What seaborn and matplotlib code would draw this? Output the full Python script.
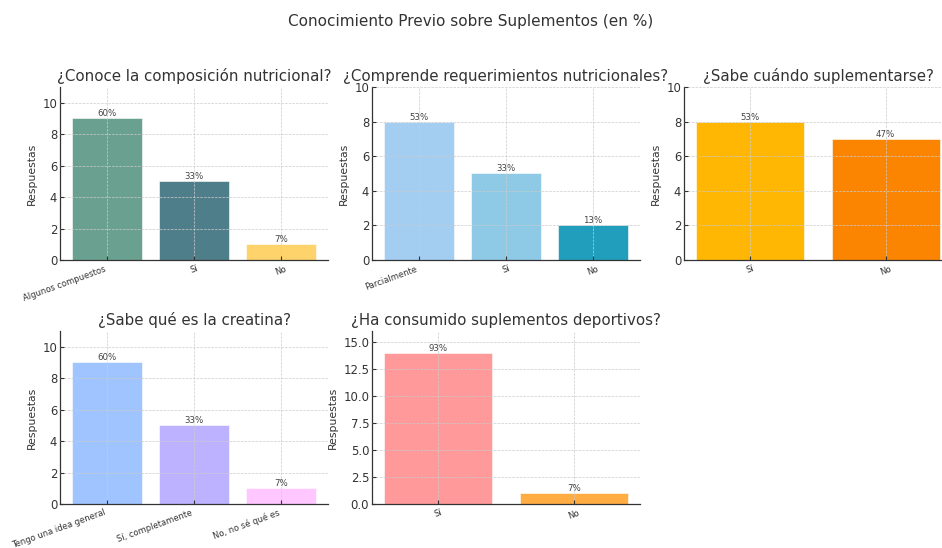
import matplotlib
matplotlib.use("Agg")
import matplotlib.pyplot as plt
import seaborn as sns
import pandas as pd

# Survey answers (number of respondents per option, 15 in total)
q1_title = "¿Conoce la composición nutricional?"
q1_labels = ["Algunos compuestos", "Sí", "No"]
q1_counts = [9, 5, 1]
q1_colors = ["#6aa08f", "#4f7e8b", "#ffd36b"]

q2_title = "¿Comprende requerimientos nutricionales?"
q2_labels = ["Parcialmente", "Sí", "No"]
q2_counts = [8, 5, 2]
q2_colors = ["#a3cdf1", "#8ecae6", "#219ebc"]

q3_title = "¿Sabe cuándo suplementarse?"
q3_labels = ["Sí", "No"]
q3_counts = [8, 7]
q3_colors = ["#ffb703", "#fb8500"]

q4_title = "¿Sabe qué es la creatina?"
q4_labels = ["Tengo una idea general", "Sí, completamente", "No, no sé qué es"]
q4_counts = [9, 5, 1]
q4_colors = ["#a0c4ff", "#bdb2ff", "#ffc6ff"]

q5_title = "¿Ha consumido suplementos deportivos?"
q5_labels = ["Sí", "No"]
q5_counts = [14, 1]
q5_colors = ["#ff999a", "#ffad42"]

TEXT = "#333333"

sns.set_theme(style="ticks")
plt.rcParams.update({
    "font.family": ["DejaVu Sans"],
    "axes.edgecolor": "#333333",
    "axes.linewidth": 0.9,
    "xtick.direction": "in",
    "ytick.direction": "in",
    "xtick.color": TEXT,
    "ytick.color": TEXT,
    "text.color": TEXT,
    "axes.labelcolor": TEXT,
})

fig = plt.figure(figsize=(9.42, 5.48), dpi=100)
W, H = 942.0, 548.0


def make_axes(left_px, top_px, width_px=268, height_px=173):
    return fig.add_axes([left_px / W, 1 - (top_px + height_px) / H,
                         width_px / W, height_px / H])


panels = [
    (make_axes(60, 87), q1_title, q1_labels, q1_counts, q1_colors),
    (make_axes(372, 87), q2_title, q2_labels, q2_counts, q2_colors),
    (make_axes(684, 87), q3_title, q3_labels, q3_counts, q3_colors),
    (make_axes(60, 331), q4_title, q4_labels, q4_counts, q4_colors),
    (make_axes(372, 331), q5_title, q5_labels, q5_counts, q5_colors),
]

BAR_W = 0.8
for ax, title, labels, counts, colors in panels:
    df = pd.DataFrame({"Respuesta": labels, "Respuestas": counts})
    total = sum(counts)
    n = len(labels)
    sns.barplot(data=df, x="Respuesta", y="Respuestas", hue="Respuesta",
                palette=colors, legend=False, width=BAR_W, saturation=1,
                edgecolor="white", linewidth=0.4, ax=ax)
    # 5% padding around the bars, as in a plain matplotlib bar chart
    span = (n - 1) + BAR_W
    pad = 0.05 * span
    ax.set_xlim(-BAR_W / 2 - pad, n - 1 + BAR_W / 2 + pad)
    ax.set_ylim(0, max(counts) + 2)
    ax.set_title(title, fontsize=10.8, color=TEXT, pad=4)
    ax.set_xlabel("")
    ax.set_ylabel("Respuestas", fontsize=7.8)
    ax.tick_params(axis="y", labelsize=8.4, length=3, width=0.8, pad=2)
    ax.tick_params(axis="x", labelsize=6.0, length=3, width=0.8, pad=3)
    for lbl in ax.get_xticklabels():
        lbl.set_rotation(20)
        lbl.set_ha("right" if len(lbl.get_text()) > 4 else "center")
    ax.grid(True, linestyle="--", linewidth=0.5, color="#cccccc")
    ax.set_axisbelow(False)
    for s in ("top", "right"):
        ax.spines[s].set_visible(False)
    for patch, c in zip(ax.patches, counts):
        ax.text(patch.get_x() + patch.get_width() / 2, patch.get_height(),
                f"{c / total * 100:.0f}%", ha="center", va="bottom",
                fontsize=6.2, color="#444444")

fig.suptitle("Conocimiento Previo sobre Suplementos (en %)", fontsize=11,
             color=TEXT, y=0.975)

fig.savefig("out.png", dpi=100)
